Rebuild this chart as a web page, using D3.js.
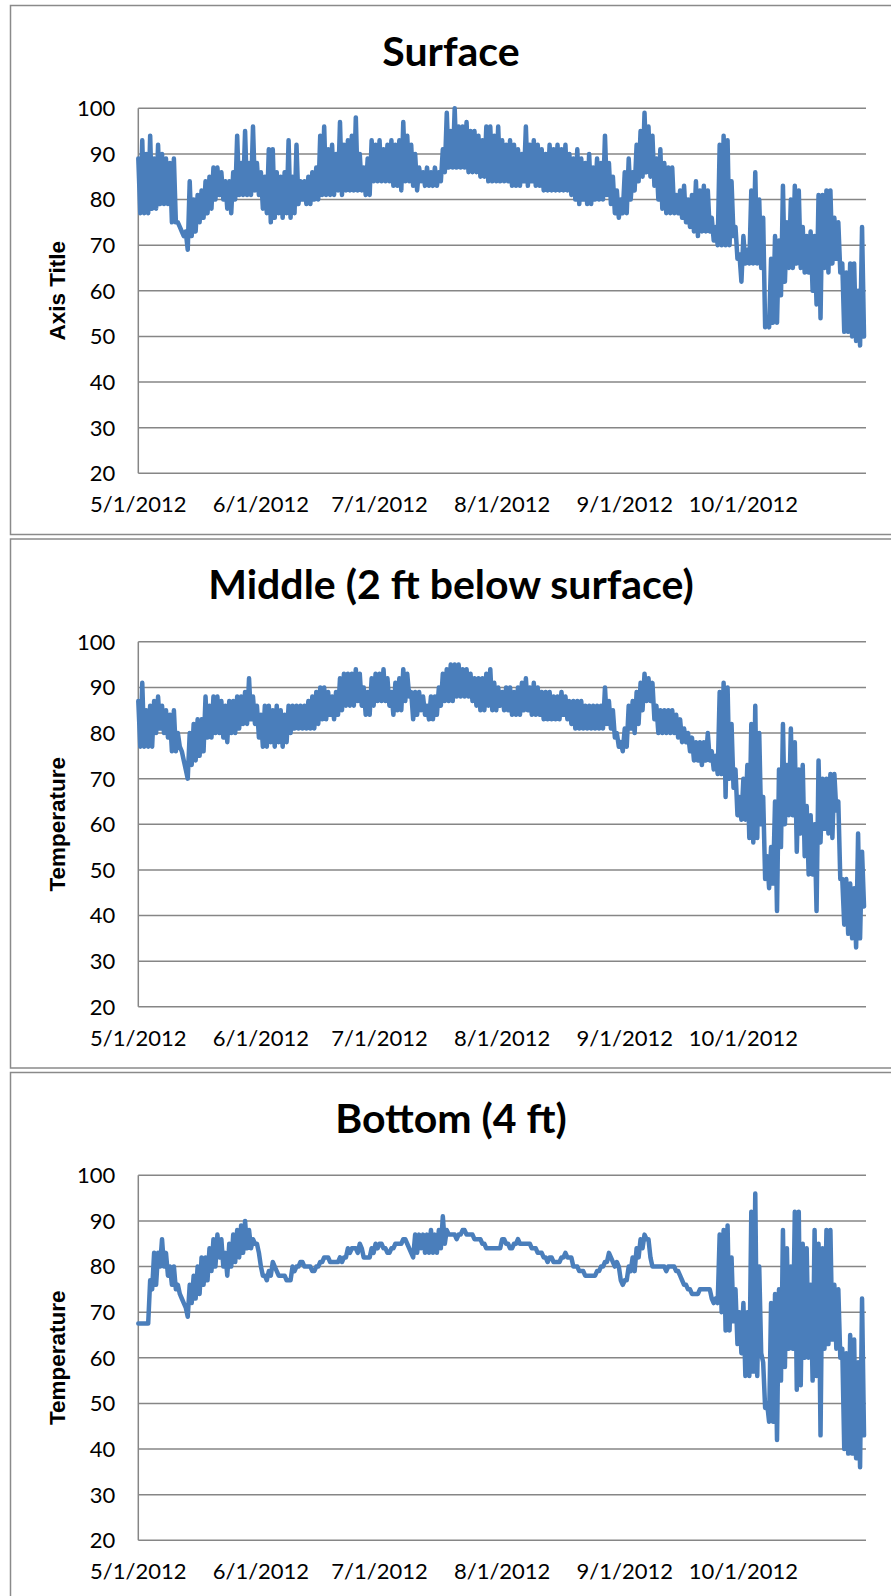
<!DOCTYPE html>
<html><head><meta charset="utf-8">
<script src="https://cdn.jsdelivr.net/npm/d3@7"></script>
<style>body{margin:0;background:#fff}svg{display:block}</style>
</head><body>
<svg id="chart" width="891" height="1596"></svg>
<script>
// ---- data (daily high / low readings, day 0 = 5/1/2012) ----
const startDate = [2012, 4, 1];
const endDate = [2012, 10, 1];
const monthTicks = ["5/1/2012","6/1/2012","7/1/2012","8/1/2012","9/1/2012","10/1/2012"];
const yTicks = [20,30,40,50,60,70,80,90,100];
const panelTitles = ["Surface","Middle (2 ft below surface)","Bottom (4 ft)"];
const axisTitles = ["Axis Title","Temperature","Temperature"];

const surfaceHigh = [
89,93,90,94,89,92,90,89,88,89,
75,73,73,84,80,81,82,84,85,87,
87,86,84,84,86,94,88,95,88,96,
88,86,85,91,91,86,85,86,93,85,
92,84,84,85,86,87,94,96,91,92,
90,97,92,93,94,98,90,87,89,93,
92,93,91,92,93,92,93,97,94,92,
90,87,86,87,86,87,86,91,99,95,
100,96,96,97,95,95,94,93,96,96,
94,96,93,92,93,92,91,90,96,92,
93,92,91,90,92,91,92,91,92,90,
89,91,89,88,90,87,89,88,94,88,
85,82,80,86,89,86,92,95,99,96,
94,89,91,88,87,87,81,82,83,80,
81,84,82,83,82,76,74,92,94,93,
84,74,68,72,69,82,86,80,76,53,
67,72,71,83,75,80,83,82,74,72,
73,72,81,81,82,82,76,75,66,64,
66,66,60,74];
const surfaceLow = [
77,77,77,78,78,79,79,79,75,75,
74,72,69,72,73,75,76,77,78,80,
81,80,78,77,80,81,81,81,81,82,
81,78,77,75,76,77,76,77,76,77,
79,80,79,79,80,80,81,81,81,81,
82,81,82,82,82,82,82,81,81,84,
84,84,84,84,83,83,82,84,84,83,
82,84,83,83,83,83,84,86,87,87,
87,87,87,86,86,86,85,85,84,84,
84,84,84,84,83,83,83,84,83,84,
83,83,82,82,82,82,82,82,82,81,
80,79,80,79,79,80,80,80,81,79,
77,76,77,77,80,82,84,85,86,85,
83,80,78,77,77,77,77,76,75,74,
73,72,73,73,73,71,70,70,70,70,
72,67,62,66,66,66,66,65,52,52,
53,53,59,62,65,65,66,65,64,64,
60,57,54,65,64,66,67,64,51,51,
50,49,48,50];

const middleHigh = [
87,91,85,86,87,88,86,85,84,85,
80,76,72,80,82,83,83,88,86,88,
88,87,86,87,87,88,88,89,92,88,
86,84,86,86,85,86,85,84,86,86,
86,86,86,87,88,89,90,90,89,88,
89,92,93,93,93,94,93,90,89,92,
93,93,94,92,89,91,92,94,93,89,
89,89,88,86,88,88,90,93,94,95,
95,95,94,94,93,92,92,92,93,94,
91,90,89,90,90,89,90,91,92,90,
91,90,89,89,89,88,88,89,88,87,
87,87,87,86,86,86,86,86,90,87,
85,80,78,81,86,87,89,91,93,92,
91,86,85,85,85,85,84,83,81,80,
79,78,78,78,80,76,75,89,91,90,
82,72,66,70,73,82,86,80,66,53,
55,65,72,82,73,81,78,72,73,64,
62,60,74,70,70,71,71,65,48,48,
47,46,58,54];
const middleLow = [
77,77,77,77,80,81,80,79,76,76,
77,74,70,73,74,75,76,79,79,80,
80,79,78,80,80,81,82,82,83,82,
79,77,77,78,77,78,77,78,80,81,
81,81,81,81,81,82,83,83,84,83,
84,85,86,86,86,87,86,84,84,86,
87,87,87,86,84,85,85,87,88,83,
84,85,84,83,83,84,86,87,87,87,
88,88,88,88,87,86,85,85,86,85,
85,86,85,85,84,84,84,85,85,84,
84,84,83,83,83,83,83,84,83,82,
81,81,81,81,81,81,81,81,82,81,
79,77,76,77,81,80,82,85,87,87,
83,80,80,80,80,80,79,78,78,76,
74,74,73,74,74,72,71,71,66,70,
68,62,61,61,57,56,57,60,48,46,
47,41,55,60,62,62,54,58,53,49,
49,41,56,59,58,57,63,48,38,36,
35,33,35,42];

const bottomHigh = [
67.5,67.5,67.5,77,83,83,86,83,80,80,
76,73,71,76,78,80,82,82,84,86,
87,86,83,85,87,88,89,90,88,86,
85,80,78,79,81,79,78,78,77,80,
80,81,80,80,79,80,81,82,82,81,
81,82,82,84,84,84,85,82,82,84,
85,85,84,83,84,85,85,86,85,83,
87,87,87,87,88,87,88,91,88,87,
87,87,88,87,87,86,86,85,84,84,
84,84,86,85,84,85,86,85,85,85,
84,83,83,82,82,81,81,82,83,82,
80,80,79,78,78,78,79,80,81,83,
81,81,77,77,80,82,84,86,87,86,
80,80,80,80,80,80,79,78,76,75,
74,74,75,75,75,73,73,87,88,89,
82,75,70,72,70,92,96,80,59,50,
72,74,75,88,84,80,92,92,85,84,
76,88,85,84,88,88,76,75,62,61,
65,64,59,73];
const bottomLow = [
67.5,67.5,67.5,75,76,80,80,78,76,75,
74,72,69,72,73,74,76,77,79,80,
82,80,78,80,81,82,83,84,84,85,
83,78,77,78,80,78,78,77,77,79,
80,81,80,80,79,80,81,82,81,81,
81,81,82,83,84,83,84,82,82,83,
84,85,84,83,84,85,85,86,84,82,
83,84,83,83,83,83,84,85,87,87,
86,87,88,87,87,86,86,85,84,84,
84,84,86,85,84,85,85,85,85,84,
84,83,82,81,82,81,81,82,82,82,
80,79,79,78,78,78,79,80,81,82,
80,80,76,77,79,79,82,84,86,82,
80,80,80,79,80,80,79,77,76,75,
74,74,75,75,75,72,72,70,66,66,
68,63,61,56,56,57,56,61,49,46,
46,42,55,58,62,62,53,54,60,60,
55,56,43,62,63,64,62,60,40,39,
39,38,36,43];

// ---- layout ----
const W = 891;
const panelTops = [5, 538.5, 1072];
const panelH = 529;
const plotLeft = 138.3, plotRight = 866;
const plotTopOff = 103.3, plotH = 365;
const lineColor = "#4a7ebb";
const gridColor = "#868686";
const bodyFont = "Lato, 'Open Sans', sans-serif";

const svg = d3.select("#chart");
svg.append("rect").attr("width", W).attr("height", 1596).attr("fill", "#fff");

const parseTick = d3.timeParse("%m/%d/%Y");
const fmt = d3.timeFormat("%-m/%-d/%Y");
const x = d3.scaleTime()
  .domain([new Date(...startDate), new Date(...endDate)])
  .range([plotLeft, plotRight]);

const seriesList = [
  [surfaceHigh, surfaceLow],
  [middleHigh, middleLow],
  [bottomHigh, bottomLow]
];

function buildPoints(hi, lo) {
  const pts = [];
  hi.forEach((h, d) => {
    pts.push({t: new Date(startDate[0], startDate[1], startDate[2] + d, 0), v: h});
    pts.push({t: new Date(startDate[0], startDate[1], startDate[2] + d, 12), v: lo[d]});
  });
  return pts;
}

panelTops.forEach((top, i) => {
  const g = svg.append("g");
  // panel border
  g.append("rect")
    .attr("x", 10.5).attr("y", top + 0.5)
    .attr("width", 900).attr("height", panelH)
    .attr("fill", "#fff").attr("stroke", "#8a8a8a").attr("stroke-width", 1.5);

  const y0 = top + plotTopOff;
  const y = d3.scaleLinear().domain([20, 100]).range([y0 + plotH, y0]);

  // gridlines
  g.append("g").selectAll("line").data(yTicks).join("line")
    .attr("x1", plotLeft).attr("x2", plotRight)
    .attr("y1", d => y(d)).attr("y2", d => y(d))
    .attr("stroke", gridColor).attr("stroke-width", 1.5);
  // left axis line
  g.append("line")
    .attr("x1", plotLeft).attr("x2", plotLeft)
    .attr("y1", y(100)).attr("y2", y(20))
    .attr("stroke", gridColor).attr("stroke-width", 1.5);

  // y labels
  g.append("g").selectAll("text").data(yTicks).join("text")
    .attr("x", plotLeft - 23).attr("y", d => y(d)).attr("dy", "0.36em")
    .attr("text-anchor", "end")
    .style("font-family", bodyFont).style("font-size", "22px").attr("fill", "#000")
    .text(d => d);

  // x labels
  g.append("g").selectAll("text").data(monthTicks).join("text")
    .attr("x", d => x(parseTick(d))).attr("y", y(20) + 31).attr("dy", "0.36em")
    .attr("text-anchor", "middle")
    .style("font-family", bodyFont).style("font-size", "22px").attr("fill", "#000")
    .text(d => fmt(parseTick(d)));

  // title
  g.append("text")
    .attr("x", 451).attr("y", top + 60.5)
    .attr("text-anchor", "middle")
    .style("font-family", bodyFont).style("font-weight", "bold").style("font-size", "41px")
    .attr("fill", "#000")
    .text(panelTitles[i]);

  // axis title
  g.append("text")
    .attr("transform", `translate(${57},${(y(100) + y(20)) / 2}) rotate(-90)`)
    .attr("text-anchor", "middle").attr("dy", "0.36em")
    .style("font-family", "'Liberation Sans', Arial, sans-serif").style("font-weight", "bold")
    .style("font-size", "22.5px").attr("fill", "#000")
    .text(axisTitles[i]);

  // series line
  const [hi, lo] = seriesList[i];
  const line = d3.line().x(d => x(d.t)).y(d => y(d.v));
  g.append("path")
    .datum(buildPoints(hi, lo))
    .attr("d", line)
    .attr("fill", "none").attr("stroke", lineColor)
    .attr("stroke-width", 4.5).attr("stroke-linejoin", "round").attr("stroke-linecap", "round");
});
</script>
</body></html>
